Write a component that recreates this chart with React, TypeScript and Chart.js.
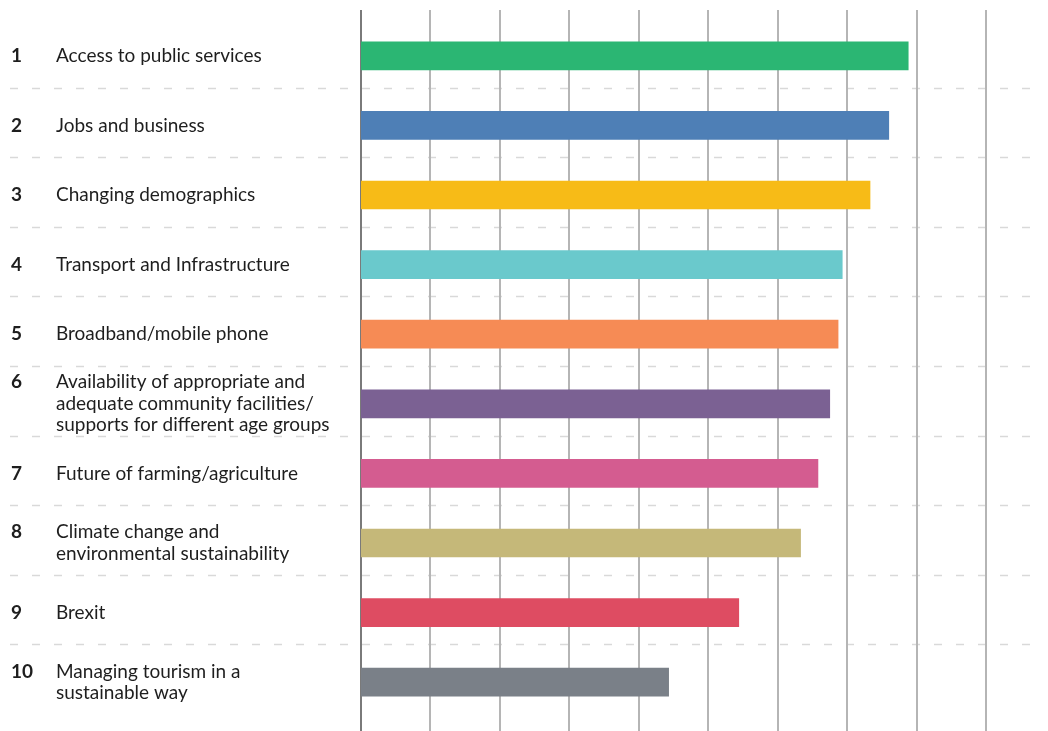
import React, { useEffect, useRef } from "react";
import { Chart, registerables } from "chart.js";

Chart.register(...registerables);

const ranks = ["1", "2", "3", "4", "5", "6", "7", "8", "9", "10"];
const categories: string[][] = [
  ["Access to public services"],
  ["Jobs and business"],
  ["Changing demographics"],
  ["Transport and Infrastructure"],
  ["Broadband/mobile phone"],
  ["Availability of appropriate and", "adequate community facilities/", "supports for different age groups"],
  ["Future of farming/agriculture"],
  ["Climate change and", "environmental sustainability"],
  ["Brexit"],
  ["Managing tourism in a", "sustainable way"],
];
const values = [7.88, 7.6, 7.33, 6.93, 6.87, 6.75, 6.58, 6.33, 5.44, 4.43];
const colors = [
  "#2bb673",
  "#4e7fb6",
  "#f7bb17",
  "#6ac9cc",
  "#f68b55",
  "#7b6193",
  "#d45c90",
  "#c5b879",
  "#de4c62",
  "#7a8088",
];

const FONT = "Lato, 'Noto Sans', sans-serif";

const decorPlugin = {
  id: "decor",
  beforeDatasetsDraw(chart: any) {
    const ctx = chart.ctx;
    const xs = chart.scales.x;
    const ys = chart.scales.y;
    const h = chart.height;
    ctx.save();
    // dashed row separators
    ctx.strokeStyle = "#d9d9d9";
    ctx.lineWidth = 1.5;
    ctx.setLineDash([8, 14]);
    for (let i = 0; i < categories.length - 1; i++) {
      const y = Math.round((ys.getPixelForValue(i) + ys.getPixelForValue(i + 1)) / 2) - 2.5;
      ctx.beginPath();
      ctx.moveTo(10, y);
      ctx.lineTo(chart.width - 6, y);
      ctx.stroke();
    }
    ctx.setLineDash([]);
    // vertical grid lines
    for (let v = xs.min; v <= xs.max; v += 1) {
      const x = Math.round(xs.getPixelForValue(v));
      ctx.strokeStyle = v === xs.min ? "#7a7a7a" : "#b5b5b5";
      ctx.lineWidth = 2;
      ctx.beginPath();
      ctx.moveTo(x, 10);
      ctx.lineTo(x, h);
      ctx.stroke();
    }
    ctx.restore();
  },
  afterDraw(chart: any) {
    const ctx = chart.ctx;
    const ys = chart.scales.y;
    const lh = 21.5;
    ctx.save();
    ctx.fillStyle = "#1e1e1e";
    ctx.textBaseline = "middle";
    ctx.textAlign = "left";
    categories.forEach((lines, i) => {
      const yc = ys.getPixelForValue(i);
      const y0 = yc - ((lines.length - 1) * lh) / 2;
      ctx.font = `bold 19px ${FONT}`;
      ctx.fillText(ranks[i], 11, y0);
      ctx.font = `19px ${FONT}`;
      lines.forEach((ln, k) => ctx.fillText(ln, 56, y0 + k * lh));
    });
    ctx.restore();
  },
};

export default function App() {
  const ref = useRef<HTMLCanvasElement | null>(null);
  useEffect(() => {
    document.body.style.margin = "0";
    if (!ref.current) return;
    const chart = new Chart(ref.current, {
      type: "bar",
      data: {
        labels: categories.map((c) => c.join(" ")),
        datasets: [
          {
            data: values,
            backgroundColor: colors,
            barThickness: 28,
            borderWidth: 0,
          },
        ],
      },
      options: {
        indexAxis: "y",
        animation: false,
        responsive: true,
        maintainAspectRatio: false,
        layout: { padding: { left: 361, right: 62, top: 21, bottom: 14 } },
        plugins: { legend: { display: false }, tooltip: { enabled: false } },
        scales: {
          x: { display: false, min: 0, max: 9, ticks: { stepSize: 1 } },
          y: { display: false, offset: true },
        },
      },
      plugins: [decorPlugin],
    });
    return () => chart.destroy();
  }, []);
  return (
    <div style={{ position: "fixed", left: 0, top: 0, width: 1048, height: 731 }}>
      <canvas ref={ref} />
    </div>
  );
}
